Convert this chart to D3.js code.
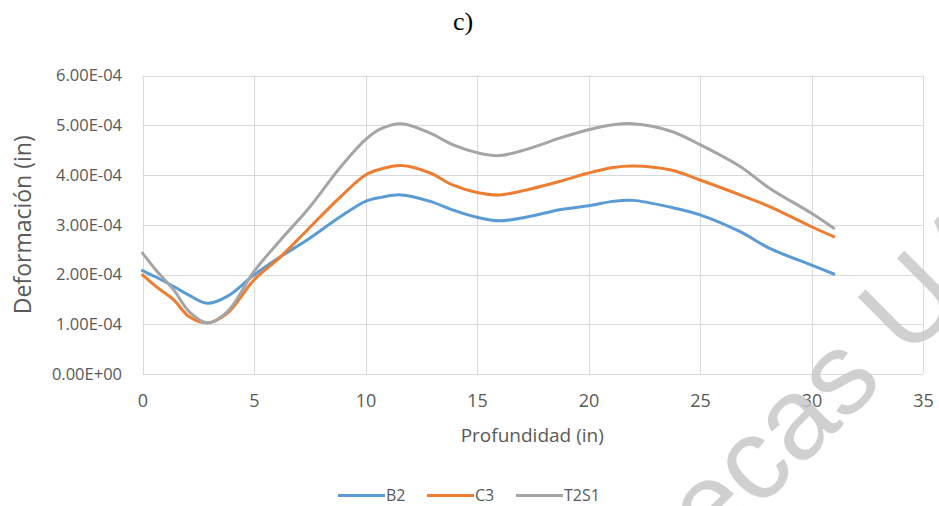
<!DOCTYPE html>
<html>
<head>
<meta charset="utf-8">
<script src="https://cdn.jsdelivr.net/npm/d3@7"></script>
<style>
  html, body { margin: 0; padding: 0; background: #ffffff; }
  svg { display: block; }
</style>
</head>
<body>
<svg id="chart" width="939" height="506"></svg>
<script>
// ---- data ----
const depth = [0, 0.6, 1.4, 2.1, 2.9, 3.8, 5, 6.2, 7.4, 8.9, 10, 10.7, 11.6, 12.9, 13.9, 15, 16, 17.4, 18.7, 20, 21.1, 22, 23.7, 25, 26.8, 28.1, 30, 31];
const B2   = [2.08e-4, 1.95e-4, 1.76e-4, 1.58e-4, 1.42e-4, 1.56e-4, 1.99e-4, 2.36e-4, 2.70e-4, 3.17e-4, 3.47e-4, 3.55e-4, 3.60e-4, 3.47e-4, 3.30e-4, 3.15e-4, 3.08e-4, 3.17e-4, 3.30e-4, 3.38e-4, 3.47e-4, 3.49e-4, 3.35e-4, 3.20e-4, 2.86e-4, 2.53e-4, 2.19e-4, 2.01e-4];
const C3   = [1.99e-4, 1.76e-4, 1.49e-4, 1.15e-4, 1.03e-4, 1.22e-4, 1.89e-4, 2.36e-4, 2.90e-4, 3.57e-4, 4.00e-4, 4.12e-4, 4.19e-4, 4.04e-4, 3.80e-4, 3.65e-4, 3.60e-4, 3.72e-4, 3.87e-4, 4.04e-4, 4.15e-4, 4.18e-4, 4.10e-4, 3.90e-4, 3.60e-4, 3.37e-4, 2.96e-4, 2.76e-4];
const T2S1 = [2.43e-4, 2.09e-4, 1.69e-4, 1.25e-4, 1.03e-4, 1.25e-4, 2.06e-4, 2.70e-4, 3.30e-4, 4.17e-4, 4.71e-4, 4.93e-4, 5.03e-4, 4.84e-4, 4.61e-4, 4.45e-4, 4.39e-4, 4.54e-4, 4.74e-4, 4.91e-4, 5.01e-4, 5.03e-4, 4.88e-4, 4.61e-4, 4.17e-4, 3.74e-4, 3.23e-4, 2.93e-4];
const seriesNames = ["B2", "C3", "T2S1"];
const xTicks = [0, 5, 10, 15, 20, 25, 30, 35];
const yTicks = [0, 1e-4, 2e-4, 3e-4, 4e-4, 5e-4, 6e-4];
const yTickLabels = ["0.00E+00", "1.00E-04", "2.00E-04", "3.00E-04", "4.00E-04", "5.00E-04", "6.00E-04"];
const titleText = "c)";
const xTitle = "Profundidad (in)";
const yTitle = "Deformación (in)";
const watermarkText = "ecas UA";

// ---- layout ----
const colors = ["#5B9BD5", "#ED7D31", "#A5A5A5"];
const svg = d3.select("#chart");
const x = d3.scaleLinear().domain([0, 35]).range([142.5, 923]);
const y = d3.scaleLinear().domain([0, 6e-4]).range([374, 75.5]);
const font = "'Open Sans', 'Liberation Sans', sans-serif";
const textColor = "#595959";

// title
svg.append("text").attr("x", 463).attr("y", 30).attr("text-anchor", "middle")
  .attr("font-family", "'Liberation Serif', 'Times New Roman', serif").attr("font-size", 26)
  .attr("fill", "#000").text(titleText);

// gridlines
const grid = svg.append("g");
grid.selectAll("line.h").data(yTicks).enter().append("line")
  .attr("x1", x(0)).attr("x2", x(35))
  .attr("y1", d => Math.round(y(d)) + 0.5).attr("y2", d => Math.round(y(d)) + 0.5)
  .attr("stroke", "#d9d9d9").attr("stroke-width", 1);
grid.selectAll("line.v").data(xTicks).enter().append("line")
  .attr("y1", y(0)).attr("y2", y(6e-4))
  .attr("x1", d => Math.round(x(d)) + 0.5).attr("x2", d => Math.round(x(d)) + 0.5)
  .attr("stroke", "#d9d9d9").attr("stroke-width", 1);

// axes (labels only, via d3 axis)
const xAxis = d3.axisBottom(x).tickValues(xTicks).tickSize(0).tickPadding(0).tickFormat(d3.format("d"));
const gx = svg.append("g").attr("transform", `translate(0,${y(0) + 27})`).call(xAxis);
gx.select(".domain").remove();
gx.selectAll("text").attr("font-family", font).attr("font-size", 18).attr("fill", textColor)
  .attr("dy", "0.35em");

const yAxis = d3.axisLeft(y).tickValues(yTicks).tickSize(0).tickPadding(0)
  .tickFormat((d, i) => yTickLabels[i]);
const gy = svg.append("g").attr("transform", `translate(122,0)`).call(yAxis);
gy.select(".domain").remove();
gy.selectAll("text").attr("font-family", font).attr("font-size", 16.5).attr("fill", textColor);

// axis titles
svg.append("text").attr("x", (x(0) + x(35)) / 2 - 0.5).attr("y", 442).attr("text-anchor", "middle")
  .attr("font-family", font).attr("font-size", 19).attr("fill", textColor).text(xTitle);
svg.append("text").attr("transform", `translate(31,${(y(0) + y(6e-4)) / 2}) rotate(-90)`)
  .attr("text-anchor", "middle").attr("font-family", font).attr("font-size", 23)
  .attr("fill", textColor).text(yTitle);

// lines
const allSeries = [B2, C3, T2S1];
const line = d3.line().x((d, i) => x(depth[i])).y(d => y(d)).curve(d3.curveCatmullRom.alpha(0.5));
svg.append("g").selectAll("path").data(allSeries).enter().append("path")
  .attr("d", d => line(d)).attr("fill", "none")
  .attr("stroke", (d, i) => colors[i]).attr("stroke-width", 3)
  .attr("stroke-linecap", "round").attr("stroke-linejoin", "round");

// legend
const legendX = [338, 427, 516];
const lg = svg.append("g");
seriesNames.forEach((name, i) => {
  lg.append("line").attr("x1", legendX[i]).attr("x2", legendX[i] + 47)
    .attr("y1", 495.5).attr("y2", 495.5).attr("stroke", colors[i]).attr("stroke-width", 3);
  lg.append("text").attr("x", legendX[i] + 48).attr("y", 495.5).attr("dy", "0.35em")
    .attr("font-family", font).attr("font-size", 16).attr("fill", textColor).text(name);
});

// watermark
svg.append("text").attr("transform", "translate(712,556) rotate(-45)")
  .attr("font-family", "'Liberation Sans', Arial, sans-serif").attr("font-size", 116)
  .attr("fill", "#c8c8c8").attr("fill-opacity", 0.85).text(watermarkText);
</script>
</body>
</html>
